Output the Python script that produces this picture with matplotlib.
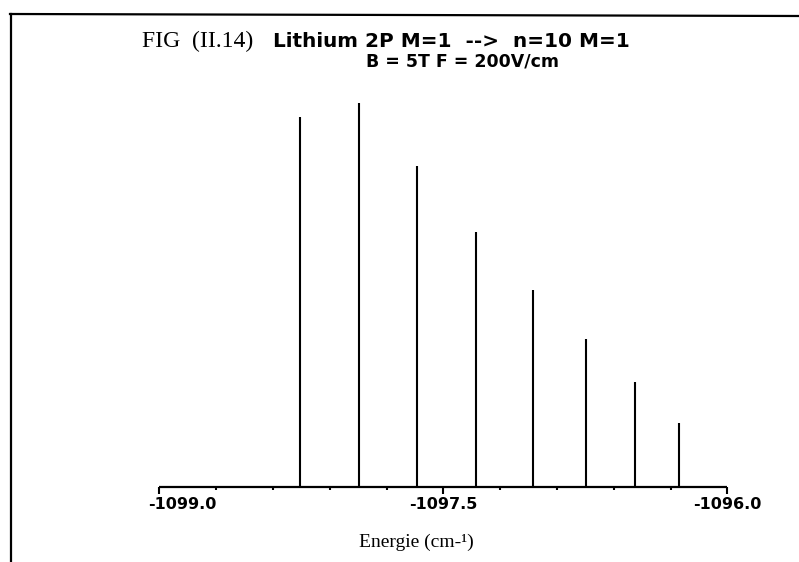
import numpy as np
import matplotlib
matplotlib.use("Agg")
import matplotlib.pyplot as plt
from matplotlib.lines import Line2D
from matplotlib.transforms import ScaledTranslation

# Data
energies = [-1098.257, -1097.945, -1097.637, -1097.327, -1097.025, -1096.748, -1096.487, -1096.254]
intensities = [370, 384, 321, 255, 197, 148, 105, 64]
major_ticks = [-1099.0, -1097.5, -1096.0]
major_labels = ["-1099.0", "-1097.5", "-1096.0"]
minor_ticks = [-1098.7, -1098.4, -1098.1, -1097.8, -1097.2, -1096.9, -1096.6, -1096.3]

W, H = 799, 562
fig = plt.figure(figsize=(W / 100, H / 100), dpi=100)
fig.patch.set_facecolor("white")

def fx(px):
    return px / W

def fy(py):
    return 1 - py / H

ax_left, ax_right, ax_bottom, ax_top = 159.3, 727.3, 487, 87
ax = fig.add_axes([fx(ax_left), fy(ax_bottom), (ax_right - ax_left) / W, (ax_bottom - ax_top) / H])
ax.set_xlim(-1099.0, -1096.0)
ax.set_ylim(0, 400)

ax.vlines(energies, 0, intensities, colors="black", linewidth=1.5)

for s in ["left", "right", "top"]:
    ax.spines[s].set_visible(False)
ax.spines["bottom"].set_linewidth(1.6)
ax.spines["bottom"].set_color("black")
ax.spines["bottom"].set_capstyle("butt")
ax.set_yticks([])

ax.set_xticks(major_ticks)
ax.set_xticklabels(major_labels, fontsize=11.5, fontweight="bold", family="DejaVu Sans")
ax.set_xticks(minor_ticks, minor=True)
ax.tick_params(axis="x", which="major", direction="out", length=5, width=1.5, pad=2, colors="black")
ax.tick_params(axis="x", which="minor", direction="out", length=2, width=1.5)
ax.patch.set_alpha(0)

# First tick label is placed to the right of its tick in the reference
lbl0 = ax.get_xticklabels()[0]
lbl0.set_horizontalalignment("left")
lbl0.set_transform(lbl0.get_transform() + ScaledTranslation(-11 / 100, 0, fig.dpi_scale_trans))

# Axis label
fig.text(fx(416), fy(547), "Energie (cm-¹)", ha="center", va="baseline",
         fontsize=14, family="Liberation Serif")

# Title
fig.text(fx(142), fy(47), "FIG  (II.14)", ha="left", va="baseline",
         fontsize=17, family="Liberation Serif")
fig.text(fx(273), fy(47), "Lithium 2P M=1  -->  n=10 M=1", ha="left", va="baseline",
         fontsize=14.4, fontweight="bold", family="DejaVu Sans")
fig.text(fx(463), fy(67), "B = 5T F = 200V/cm", ha="center", va="baseline",
         fontsize=12.5, fontweight="bold", family="DejaVu Sans")

# Frame border
fig.add_artist(Line2D([fx(11), fx(11)], [fy(14), fy(562)], transform=fig.transFigure,
                      color="black", linewidth=1.6))
fig.add_artist(Line2D([fx(10), fx(799)], [fy(14), fy(16)], transform=fig.transFigure,
                      color="black", linewidth=1.6))

fig.savefig("out.png", dpi=100)
